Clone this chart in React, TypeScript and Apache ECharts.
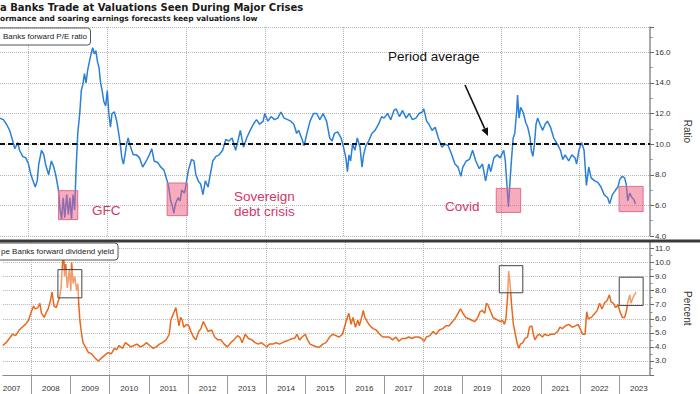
import React, { useEffect, useRef } from "react";
import * as echarts from "echarts";

const yearLabels = ["2007","2008","2009","2010","2011","2012","2013","2014","2015","2016","2017","2018","2019","2020","2021","2022","2023"];
const gridYears = [2008, 2010, 2012, 2014, 2016, 2018, 2020, 2022];
const peTicks = [4, 6, 8, 10, 12, 14, 16];
const yieldTicks = [3, 4, 5, 6, 7, 8, 9, 10, 11];
const peAverage = 10;

const peData: [number, number][] = [
  [2007.27,11.7],[2007.36,11.6],[2007.44,11.3],[2007.52,10.9],[2007.60,10.2],[2007.65,9.7],[2007.73,10.1],[2007.77,9.6],[2007.85,9.2],[2007.93,9.1],
  [2008.00,8.7],[2008.06,8.0],[2008.10,7.7],[2008.17,7.2],[2008.22,7.6],[2008.26,8.7],[2008.33,9.6],[2008.39,9.3],[2008.43,8.7],[2008.51,8.0],
  [2008.58,8.9],[2008.64,8.5],[2008.69,8.0],[2008.76,7.0],[2008.80,5.7],[2008.84,5.1],[2008.88,6.5],[2008.92,5.2],[2008.97,6.7],[2009.01,5.4],
  [2009.05,6.5],[2009.09,5.1],[2009.13,6.7],[2009.17,5.7],[2009.21,8.5],[2009.25,10.7],[2009.30,12.0],[2009.34,13.5],[2009.38,13.9],[2009.42,14.6],
  [2009.46,14.0],[2009.50,14.8],[2009.57,15.7],[2009.63,16.3],[2009.67,15.9],[2009.71,16.1],[2009.75,15.4],[2009.79,15.0],[2009.83,14.0],[2009.87,13.5],
  [2009.91,12.8],[2009.96,12.5],[2010.00,13.5],[2010.04,12.0],[2010.08,11.1],[2010.12,12.0],[2010.18,12.1],[2010.24,11.5],[2010.29,10.7],[2010.33,10.0],
  [2010.37,9.1],[2010.41,8.7],[2010.45,9.3],[2010.49,10.0],[2010.53,10.4],[2010.57,10.0],[2010.62,9.6],[2010.66,9.3],[2010.74,9.3],[2010.82,9.1],
  [2010.90,8.5],[2010.99,8.9],[2011.07,9.3],[2011.13,9.7],[2011.19,8.9],[2011.28,8.8],[2011.36,8.5],[2011.44,8.3],[2011.52,7.6],[2011.56,7.2],
  [2011.61,6.3],[2011.65,6.0],[2011.69,5.5],[2011.73,6.1],[2011.80,6.5],[2011.85,6.3],[2011.89,7.0],[2011.96,6.8],[2011.99,7.2],[2012.06,8.3],
  [2012.14,9.0],[2012.20,8.9],[2012.25,8.0],[2012.31,7.6],[2012.37,7.4],[2012.43,6.7],[2012.49,7.6],[2012.56,7.2],[2012.60,7.8],[2012.68,8.9],
  [2012.76,9.2],[2012.84,9.3],[2012.93,9.6],[2013.01,10.3],[2013.09,10.2],[2013.17,10.4],[2013.26,9.6],[2013.30,10.0],[2013.38,10.9],[2013.46,9.8],
  [2013.54,10.4],[2013.63,10.9],[2013.71,11.3],[2013.79,11.6],[2013.87,11.3],[2013.96,11.5],[2014.00,12.0],[2014.08,11.5],[2014.16,11.8],[2014.25,11.6],
  [2014.33,11.7],[2014.41,12.1],[2014.49,11.7],[2014.58,11.6],[2014.66,11.5],[2014.74,11.3],[2014.81,10.7],[2014.86,10.9],[2014.95,10.3],[2015.00,9.9],
  [2015.07,10.7],[2015.15,11.5],[2015.24,12.0],[2015.32,12.0],[2015.40,11.6],[2015.48,12.0],[2015.57,11.5],[2015.65,10.4],[2015.71,10.2],[2015.77,10.7],
  [2015.85,10.8],[2015.94,10.4],[2016.00,9.8],[2016.06,9.1],[2016.10,8.2],[2016.14,9.3],[2016.18,8.9],[2016.23,10.0],[2016.29,9.6],[2016.35,10.4],
  [2016.42,9.8],[2016.47,8.5],[2016.51,9.3],[2016.57,9.9],[2016.64,10.2],[2016.72,10.7],[2016.80,10.9],[2016.89,11.3],[2016.97,11.8],[2017.03,11.7],
  [2017.12,12.0],[2017.20,11.6],[2017.28,12.2],[2017.34,12.3],[2017.42,11.8],[2017.50,12.2],[2017.59,11.7],[2017.67,12.0],[2017.75,11.6],[2017.84,11.7],
  [2017.92,12.0],[2018.00,12.1],[2018.04,12.3],[2018.11,11.5],[2018.17,11.3],[2018.25,10.9],[2018.33,11.1],[2018.41,10.4],[2018.50,9.8],[2018.58,10.0],
  [2018.66,9.9],[2018.75,9.3],[2018.83,8.7],[2018.91,8.5],[2018.98,7.9],[2019.03,8.5],[2019.12,8.9],[2019.20,9.0],[2019.28,9.6],[2019.36,8.9],
  [2019.45,8.4],[2019.53,8.7],[2019.61,7.6],[2019.69,8.7],[2019.74,8.2],[2019.82,9.1],[2019.90,9.3],[2019.98,9.1],[2020.07,9.6],[2020.11,8.9],
  [2020.15,7.4],[2020.19,5.9],[2020.23,7.6],[2020.27,9.1],[2020.31,10.4],[2020.35,10.7],[2020.40,12.2],[2020.42,13.2],[2020.46,11.7],[2020.50,12.4],
  [2020.56,12.1],[2020.63,11.4],[2020.68,11.1],[2020.74,10.4],[2020.77,9.6],[2020.81,9.2],[2020.85,10.0],[2020.89,11.3],[2020.93,11.7],[2020.99,11.3],
  [2021.06,10.9],[2021.12,11.3],[2021.18,11.5],[2021.26,11.1],[2021.34,10.4],[2021.43,10.0],[2021.51,9.6],[2021.57,9.0],[2021.63,9.3],[2021.72,8.9],
  [2021.80,9.3],[2021.88,9.1],[2021.92,8.7],[2021.98,9.6],[2022.05,10.1],[2022.11,9.6],[2022.17,7.3],[2022.23,8.5],[2022.29,7.8],[2022.38,7.6],
  [2022.46,7.5],[2022.54,7.2],[2022.62,6.7],[2022.71,6.5],[2022.76,6.1],[2022.83,6.7],[2022.91,7.0],[2022.97,7.2],[2023.02,7.7],[2023.08,7.9],
  [2023.14,7.8],[2023.18,7.4],[2023.22,6.3],[2023.27,6.8],[2023.33,6.5],[2023.37,6.4],[2023.42,6.1]
];

const yieldData: [number, number][] = [
  [2007.27,4.1],[2007.36,4.3],[2007.44,4.6],[2007.52,4.9],[2007.60,4.8],[2007.69,5.2],[2007.77,5.4],[2007.85,5.6],[2007.93,5.9],[2008.00,6.5],
  [2008.06,6.9],[2008.10,6.7],[2008.17,6.8],[2008.22,7.1],[2008.26,6.4],[2008.33,6.1],[2008.39,6.5],[2008.43,6.7],[2008.49,7.3],[2008.53,7.9],
  [2008.58,6.9],[2008.64,6.8],[2008.68,7.2],[2008.72,7.5],[2008.76,8.2],[2008.80,10.1],[2008.83,10.4],[2008.85,9.0],[2008.88,9.9],[2008.92,8.2],
  [2008.97,9.5],[2009.01,8.0],[2009.03,10.0],[2009.07,8.5],[2009.11,9.0],[2009.16,8.0],[2009.19,8.5],[2009.21,7.1],[2009.24,5.9],[2009.27,5.2],
  [2009.32,4.3],[2009.38,4.0],[2009.46,3.6],[2009.54,3.5],[2009.63,3.2],[2009.71,3.0],[2009.79,3.2],[2009.87,3.4],[2009.96,3.6],[2010.04,3.5],
  [2010.12,3.9],[2010.18,3.8],[2010.24,4.1],[2010.33,3.9],[2010.40,4.3],[2010.45,4.2],[2010.54,4.0],[2010.62,4.1],[2010.70,4.2],[2010.78,4.0],
  [2010.86,4.1],[2010.94,4.3],[2011.02,4.1],[2011.11,3.9],[2011.19,4.0],[2011.27,4.2],[2011.35,4.3],[2011.44,4.5],[2011.52,4.9],[2011.56,5.9],
  [2011.63,6.4],[2011.69,6.8],[2011.73,6.1],[2011.77,5.5],[2011.81,6.1],[2011.85,5.9],[2011.89,5.4],[2011.96,5.6],[2012.02,5.5],[2012.07,5.1],
  [2012.14,4.7],[2012.20,4.5],[2012.27,5.1],[2012.33,5.3],[2012.39,5.8],[2012.46,5.4],[2012.51,5.1],[2012.60,5.2],[2012.68,4.7],[2012.76,4.5],
  [2012.84,4.5],[2012.92,4.2],[2013.00,4.0],[2013.09,4.3],[2013.17,4.5],[2013.26,4.8],[2013.32,4.7],[2013.38,4.3],[2013.46,4.9],[2013.54,4.6],
  [2013.63,4.5],[2013.71,4.3],[2013.79,4.2],[2013.87,4.3],[2013.96,4.1],[2014.01,4.0],[2014.08,4.2],[2014.16,4.2],[2014.25,4.3],[2014.33,4.2],
  [2014.41,4.3],[2014.49,4.4],[2014.58,4.5],[2014.66,4.6],[2014.72,4.6],[2014.78,4.9],[2014.84,4.5],[2014.91,4.7],[2014.99,4.9],[2015.05,4.5],
  [2015.11,4.2],[2015.19,4.1],[2015.28,4.0],[2015.36,4.0],[2015.44,4.2],[2015.52,4.3],[2015.61,4.7],[2015.69,4.9],[2015.77,4.8],[2015.85,4.7],
  [2015.94,4.9],[2015.99,5.4],[2016.04,5.9],[2016.10,6.4],[2016.16,5.6],[2016.21,6.1],[2016.27,5.4],[2016.33,5.9],[2016.37,5.5],[2016.43,6.1],
  [2016.47,6.6],[2016.51,6.1],[2016.57,5.8],[2016.64,5.5],[2016.72,5.3],[2016.80,5.2],[2016.89,4.9],[2016.97,4.7],[2017.05,4.7],[2017.13,4.7],
  [2017.22,4.5],[2017.30,4.7],[2017.38,4.4],[2017.46,4.6],[2017.55,4.6],[2017.63,4.7],[2017.71,4.6],[2017.79,4.7],[2017.88,4.7],[2017.96,4.6],
  [2018.02,4.4],[2018.08,4.7],[2018.17,4.8],[2018.25,5.1],[2018.33,4.9],[2018.41,5.2],[2018.50,5.3],[2018.58,5.5],[2018.66,5.5],[2018.75,5.8],
  [2018.83,6.1],[2018.89,6.4],[2018.95,6.7],[2019.01,6.4],[2019.08,6.1],[2019.16,6.0],[2019.24,5.9],[2019.32,5.8],[2019.39,6.1],[2019.45,6.5],
  [2019.50,6.6],[2019.57,6.4],[2019.61,7.1],[2019.65,7.0],[2019.72,6.5],[2019.78,6.1],[2019.83,6.0],[2019.90,5.9],[2019.97,5.8],[2020.02,5.9],
  [2020.07,5.6],[2020.11,6.0],[2020.15,7.5],[2020.18,9.4],[2020.21,8.7],[2020.25,7.1],[2020.30,5.6],[2020.35,4.9],[2020.40,4.2],[2020.44,3.9],
  [2020.48,4.2],[2020.54,4.3],[2020.60,4.6],[2020.66,4.7],[2020.71,5.4],[2020.77,5.5],[2020.81,4.9],[2020.85,4.5],[2020.91,4.8],[2020.97,4.9],
  [2021.04,4.7],[2021.10,4.9],[2021.18,4.8],[2021.26,4.9],[2021.34,4.9],[2021.43,5.1],[2021.49,5.4],[2021.55,5.3],[2021.63,5.5],[2021.72,5.6],
  [2021.80,5.4],[2021.88,5.5],[2021.95,5.6],[2022.00,5.3],[2022.07,4.9],[2022.13,4.9],[2022.17,6.5],[2022.21,6.0],[2022.29,6.1],[2022.38,6.4],
  [2022.44,6.6],[2022.50,7.1],[2022.56,6.7],[2022.62,7.1],[2022.69,7.3],[2022.75,7.7],[2022.79,7.2],[2022.85,7.1],[2022.91,6.8],[2022.97,7.0],
  [2023.02,6.5],[2023.08,6.1],[2023.14,6.1],[2023.18,6.5],[2023.22,7.2],[2023.27,7.7],[2023.30,7.1],[2023.35,7.5],[2023.39,7.7],[2023.43,7.9]
];

// highlighted crisis windows: [x0, x1, yTop, yBottom]
const peBoxes: [number, number, number, number][] = [
  [2008.76, 2009.25, 6.96, 5.07],
  [2011.52, 2012.04, 7.46, 5.33],
  [2019.88, 2020.50, 7.11, 5.54],
  [2023.00, 2023.61, 7.24, 5.59],
];
const yieldBoxes: [number, number, number, number][] = [
  [2008.68, 2009.29, 9.50, 7.49],
  [2019.94, 2020.54, 9.78, 7.85],
  [2023.00, 2023.61, 8.96, 6.95],
];

const FONT = '"Liberation Sans", Arial, sans-serif';
const BLUE = "#2a80d8";
const ORANGE = "#e8691d";
const CRIMSON = "#d4376a";

export default function App() {
  const ref = useRef<HTMLDivElement>(null);
  useEffect(() => {
    if (!ref.current) return;
    const chart = echarts.init(ref.current, undefined, { renderer: "svg" });
    const xMin = 2007.275;
    const xMax = 2023.785;
    const gridLineStyle = { type: "dotted", color: "#b5b5b5", width: 1 };
    const vGrid = (xi: number, yi: number) => ({
      type: "line", xAxisIndex: xi, yAxisIndex: yi, data: [], z: 1,
      markLine: {
        silent: true, symbol: "none", label: { show: false }, z: 1,
        lineStyle: gridLineStyle,
        data: gridYears.map((y) => ({ xAxis: y })),
      },
    });
    const yAxisCommon = {
      type: "value",
      position: "right",
      axisLine: { show: true, lineStyle: { color: "#8c8c8c", width: 1.5 } },
      axisTick: { show: true, length: 4, lineStyle: { color: "#666" } },
      minorTick: { show: true, splitNumber: 2, length: 2.5, lineStyle: { color: "#888" } },
      splitLine: { show: true, lineStyle: gridLineStyle },
      nameLocation: "middle",
      nameRotate: -90,
      nameGap: 32,
      nameTextStyle: { fontSize: 10, color: "#333", fontFamily: FONT },
    };
    const option: any = {
      animation: false,
      backgroundColor: "#ffffff",
      grid: [
        { left: 0, right: 33, top: 27, height: 209 },
        { left: 0, right: 33, top: 241.5, height: 133.5 },
      ],
      xAxis: [
        { gridIndex: 0, type: "value", min: xMin, max: xMax, axisLine: { show: false }, axisTick: { show: false }, axisLabel: { show: false }, splitLine: { show: false } },
        {
          gridIndex: 1, type: "value", position: "bottom", min: xMin, max: xMax,
          axisLine: { show: true, onZero: false, lineStyle: { color: "#8c8c8c", width: 1 } },
          axisTick: { show: true, length: 20, lineStyle: { color: "#999" }, customValues: yearLabels.map((y) => +y) },
          axisLabel: {
            show: true, margin: 9, fontSize: 8, color: "#333", fontFamily: FONT,
            customValues: yearLabels.map((y) => +y + 0.5),
            formatter: (v: number) => yearLabels[Math.round(v - 0.5) - 2007] ?? "",
          },
          splitLine: { show: false },
        },
      ],
      yAxis: [
        {
          ...yAxisCommon, gridIndex: 0, min: peTicks[0], max: 17.65, interval: 2, name: "Ratio",
          axisLabel: { margin: 5, fontSize: 8, color: "#333", fontFamily: FONT, showMaxLabel: false,
            formatter: (v: number) => (peTicks.includes(Math.round(v * 100) / 100) ? v.toFixed(1) : "") },
        },
        {
          ...yAxisCommon, gridIndex: 1, min: 2, max: 11.5, interval: 1, name: "Percent",
          axisLabel: { margin: 5, fontSize: 8, color: "#333", fontFamily: FONT, showMaxLabel: false,
            formatter: (v: number) => (yieldTicks.includes(Math.round(v * 100) / 100) ? v.toFixed(1) : "") },
        },
      ],
      series: [
        vGrid(0, 0),
        vGrid(1, 1),
        {
          type: "line", xAxisIndex: 0, yAxisIndex: 0, data: peData, showSymbol: false, z: 3,
          lineStyle: { color: BLUE, width: 1.5 }, itemStyle: { color: BLUE },
          markLine: {
            silent: true, symbol: "none", label: { show: false }, z: 6,
            lineStyle: { color: "#111", type: [5, 3], width: 2 },
            data: [{ yAxis: peAverage }],
          },
        },
        {
          type: "line", xAxisIndex: 0, yAxisIndex: 0, data: [], z: 10,
          markArea: {
            silent: true, z: 10,
            itemStyle: { color: "rgba(240,90,125,0.5)", borderColor: "#dd6f8c", borderWidth: 1 },
            data: peBoxes.map((b) => [{ xAxis: b[0], yAxis: b[2] }, { xAxis: b[1], yAxis: b[3] }]),
          },
        },
        {
          type: "line", xAxisIndex: 1, yAxisIndex: 1, data: yieldData, showSymbol: false, z: 3,
          lineStyle: { color: ORANGE, width: 1.5 }, itemStyle: { color: ORANGE },
        },
        {
          type: "line", xAxisIndex: 1, yAxisIndex: 1, data: [], z: 10,
          markArea: {
            silent: true, z: 10,
            itemStyle: { color: "rgba(255,255,255,0.35)", borderColor: "#444", borderWidth: 1 },
            data: yieldBoxes.map((b) => [{ xAxis: b[0], yAxis: b[2] }, { xAxis: b[1], yAxis: b[3] }]),
          },
        },
      ],
      graphic: [
        { type: "rect", z: 20, shape: { x: 0, y: 239.5, width: 700, height: 3 }, style: { fill: "#3a3a3a" } },
        { type: "text", z: 20, x: 0, y: 7.5, style: { text: "a Banks Trade at Valuations Seen During Major Crises", font: 'bold 10px "DejaVu Sans"', fill: "#1a1a1a", align: "left", verticalAlign: "middle" } },
        { type: "text", z: 20, x: 0, y: 18.5, style: { text: "ormance and soaring earnings forecasts keep valuations low", font: 'bold 7.5px "DejaVu Sans"', fill: "#1a1a1a", align: "left", verticalAlign: "middle" } },
        { type: "rect", z: 20, shape: { x: -10, y: 28, width: 100.5, height: 17, r: 3 }, style: { fill: "#fff", stroke: "#555", lineWidth: 1 } },
        { type: "text", z: 21, x: 3, y: 36.5, style: { text: "Banks forward P/E ratio", font: `8px ${FONT}`, fill: "#222", align: "left", verticalAlign: "middle" } },
        { type: "rect", z: 20, shape: { x: -10, y: 243, width: 128, height: 17, r: 3 }, style: { fill: "#fff", stroke: "#555", lineWidth: 1 } },
        { type: "text", z: 21, x: 1, y: 251.5, style: { text: "pe Banks forward dividend yield", font: `8px ${FONT}`, fill: "#222", align: "left", verticalAlign: "middle" } },
        { type: "text", z: 20, x: 388, y: 56, style: { text: "Period average", font: `13.5px ${FONT}`, fill: "#111", align: "left", verticalAlign: "middle" } },
        { type: "line", z: 20, shape: { x1: 465, y1: 85, x2: 484.7, y2: 128.7 }, style: { stroke: "#111", lineWidth: 1.6 } },
        { type: "polygon", z: 20, shape: { points: [[488, 136], [481.3, 130.1], [488, 127.2]] }, style: { fill: "#111" } },
        { type: "text", z: 20, x: 92, y: 210, style: { text: "GFC", font: `13.5px ${FONT}`, fill: CRIMSON, align: "left", verticalAlign: "middle" } },
        { type: "text", z: 20, x: 234, y: 196, style: { text: "Sovereign", font: `13.5px ${FONT}`, fill: CRIMSON, align: "left", verticalAlign: "middle" } },
        { type: "text", z: 20, x: 234, y: 211, style: { text: "debt crisis", font: `13.5px ${FONT}`, fill: CRIMSON, align: "left", verticalAlign: "middle" } },
        { type: "text", z: 20, x: 445, y: 206, style: { text: "Covid", font: `13.5px ${FONT}`, fill: CRIMSON, align: "left", verticalAlign: "middle" } },
      ],
    };
    chart.setOption(option);
    return () => chart.dispose();
  }, []);
  return (
    <div
      ref={ref}
      style={{ position: "fixed", left: 0, top: 0, width: 700, height: 394, background: "#fff" }}
    />
  );
}
